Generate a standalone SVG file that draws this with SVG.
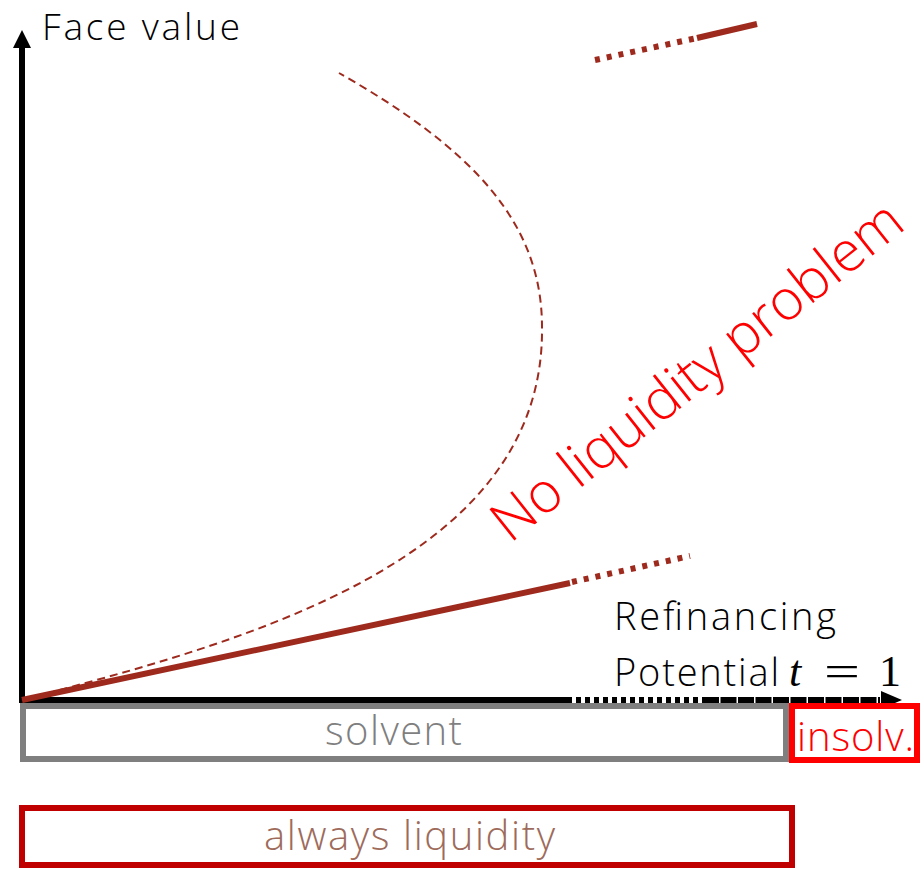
<svg xmlns="http://www.w3.org/2000/svg" width="924" height="869" viewBox="0 0 924 869">
<style>
.lbl{font-family:"Open Sans","Lato","Noto Sans","Liberation Sans",sans-serif;font-weight:300;}
.brown{stroke:#9E2A1E;fill:none;}
.dot{stroke-dasharray:5 7;stroke-width:6;}
.axis{stroke:#000;stroke-width:6;fill:none;}
.math{font-family:"Liberation Serif","DejaVu Serif",serif;font-size:44px;fill:#000;}
</style>
<rect width="924" height="869" fill="#fff"/>
<g id="connectors">
  <line class="axis" x1="22" y1="703" x2="22" y2="46"/>
  <polygon points="22,30 13,48 31,48" fill="#000"/>
  <line class="axis" x1="19" y1="700" x2="567" y2="700"/>
  <line class="axis" x1="567" y1="700" x2="703" y2="700" stroke-dasharray="5 4"/>
  <line class="axis" x1="703" y1="700" x2="880" y2="700" stroke-dasharray="16 1.5"/>
  <polygon points="902,700 881,691 881,709" fill="#000"/>
  <line class="brown" x1="22" y1="700" x2="570" y2="583" stroke-width="6"/>
  <line class="brown dot" x1="572" y1="582" x2="690" y2="556"/>
  <line class="brown dot" x1="595" y1="60" x2="697" y2="38"/>
  <line class="brown" x1="697" y1="38" x2="757" y2="24" stroke-width="6"/>
  <path class="brown" d="M22,700 C250,640 545,560 542,327 C542,220 469,147 339,73" stroke-width="2" stroke-dasharray="8 5"/>
</g>
<g id="face-value"><text class="lbl" x="42" y="40" font-size="37" textLength="198" fill="#000">Face value</text></g>
<g id="refinancing">
  <text class="lbl" x="614" y="630" font-size="38" textLength="222" fill="#000">Refinancing</text>
  <text class="lbl" x="614" y="686" font-size="38" textLength="165" fill="#000">Potential</text>
  <text class="math" x="789" y="686" font-style="italic">t</text>
  <text class="math" x="824" y="686" textLength="36" lengthAdjust="spacingAndGlyphs">=</text>
  <text class="math" x="879" y="686">1</text>
</g>
<g id="no-liquidity"><text class="lbl" transform="translate(510,544) rotate(-38.5)" x="0" y="0" font-size="56" textLength="508" fill="#FF0000">No liquidity problem</text></g>
<g id="solvent">
  <rect x="23" y="706" width="763" height="53" fill="none" stroke="#7F7F7F" stroke-width="6"/>
  <text class="lbl" x="325" y="745" font-size="40" textLength="137" fill="#7F7F7F">solvent</text>
</g>
<g id="insolv">
  <rect x="792" y="706" width="125" height="54" fill="none" stroke="#FF0000" stroke-width="6"/>
  <text class="lbl" x="797" y="751" font-size="40" textLength="117" fill="#FF0000">insolv.</text>
</g>
<g id="always-liquidity">
  <rect x="22" y="808" width="770" height="57" fill="none" stroke="#C00000" stroke-width="6"/>
  <text class="lbl" x="264" y="850" font-size="40" textLength="291" fill="#9E6B5B">always liquidity</text>
</g>
</svg>
